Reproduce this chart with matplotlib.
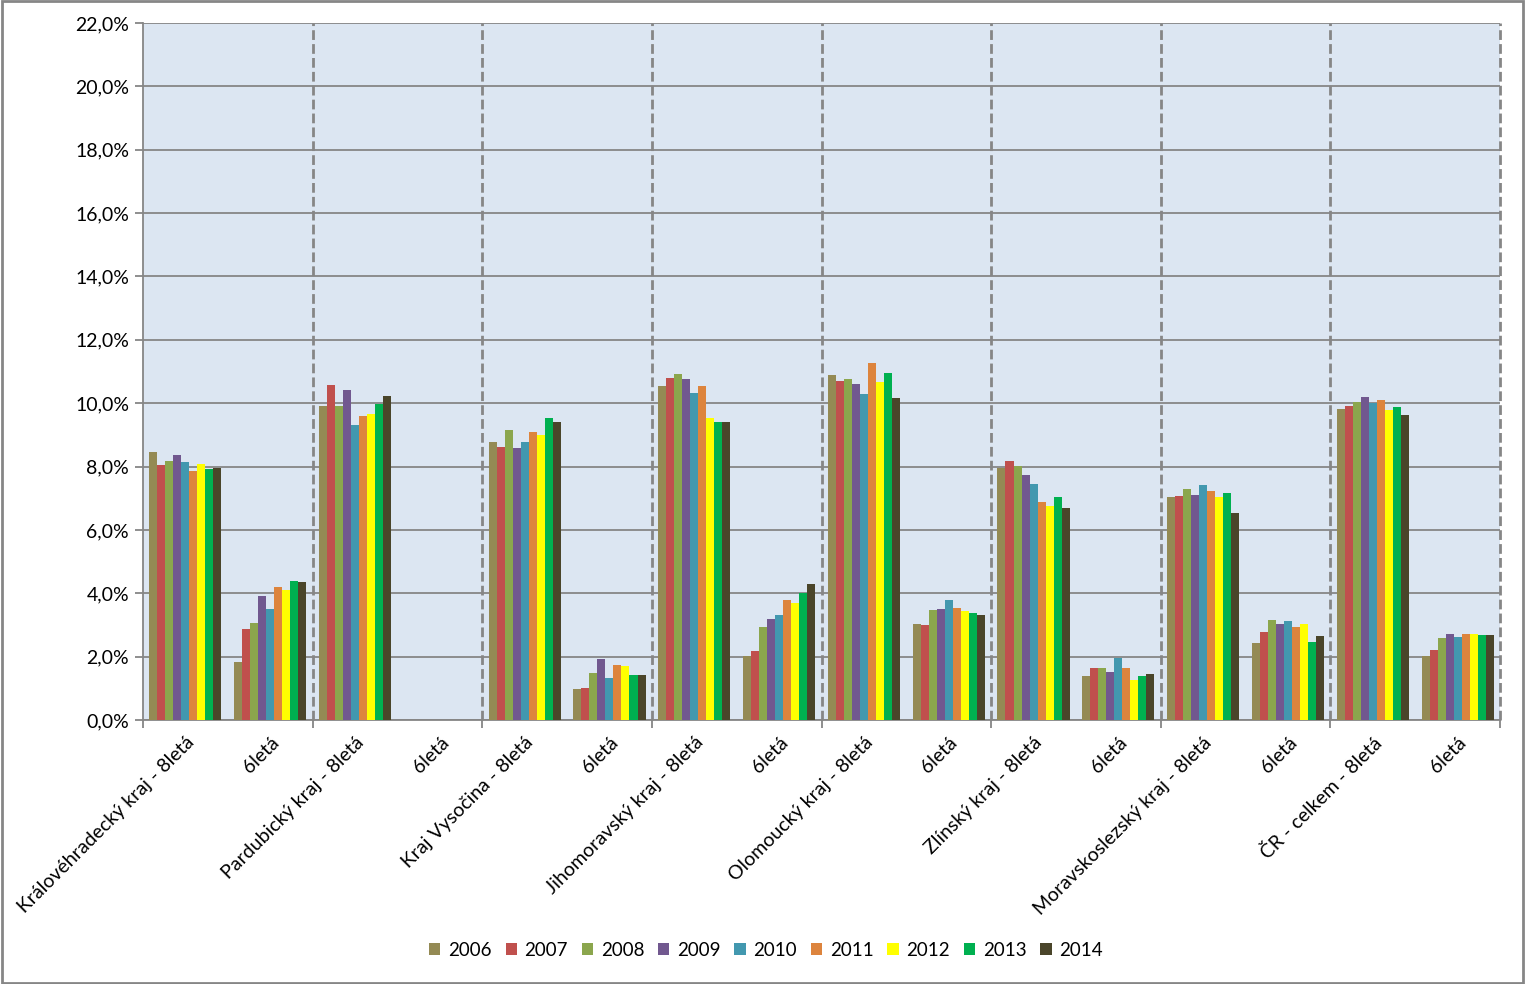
import matplotlib
matplotlib.use("Agg")
import matplotlib.pyplot as plt
import numpy as np
from matplotlib.patches import Rectangle
from matplotlib.ticker import FuncFormatter, FixedLocator

plt.rcParams['font.family'] = ['Lato', 'DejaVu Sans']

categories = ["Královéhradecký kraj - 8letá", "6letá",
              "Pardubický kraj - 8letá", "6letá",
              "Kraj Vysočina - 8letá", "6letá",
              "Jihomoravský kraj - 8letá", "6letá",
              "Olomoucký kraj - 8letá", "6letá",
              "Zlínský kraj - 8letá", "6letá",
              "Moravskoslezský kraj - 8letá", "6letá",
              "ČR - celkem - 8letá", "6letá"]

years = ["2006", "2007", "2008", "2009", "2010", "2011", "2012", "2013", "2014"]

# values in % ; rows = categories, columns = years
kh8 = [8.45, 8.04, 8.16, 8.35, 8.13, 7.85, 8.07, 7.91, 7.94]
kh6 = [1.84, 2.88, 3.07, 3.92, 3.51, 4.21, 4.11, 4.40, 4.37]
pa8 = [9.91, 10.57, 9.91, 10.41, 9.30, 9.59, 9.65, 9.97, 10.22]
pa6 = [0, 0, 0, 0, 0, 0, 0, 0, 0]
vy8 = [8.77, 8.61, 9.15, 8.58, 8.77, 9.08, 8.98, 9.53, 9.40]
vy6 = [0.98, 1.01, 1.49, 1.93, 1.33, 1.73, 1.71, 1.42, 1.42]
jm8 = [10.54, 10.79, 10.92, 10.76, 10.32, 10.54, 9.53, 9.40, 9.40]
jm6 = [2.03, 2.19, 2.94, 3.20, 3.32, 3.80, 3.70, 4.02, 4.30]
ol8 = [10.89, 10.70, 10.76, 10.60, 10.28, 11.27, 10.68, 10.95, 10.16]
ol6 = [3.04, 3.01, 3.48, 3.51, 3.80, 3.54, 3.45, 3.39, 3.32]
zl8 = [7.94, 8.16, 8.02, 7.72, 7.44, 6.87, 6.77, 7.03, 6.68]
zl6 = [1.39, 1.65, 1.65, 1.52, 1.96, 1.63, 1.27, 1.39, 1.46]
ms8 = [7.03, 7.06, 7.28, 7.09, 7.41, 7.22, 7.03, 7.15, 6.52]
ms6 = [2.44, 2.78, 3.16, 3.04, 3.13, 2.94, 3.04, 2.47, 2.66]
cr8 = [9.81, 9.91, 10.03, 10.19, 10.00, 10.09, 9.79, 9.87, 9.62]
cr6 = [2.03, 2.22, 2.59, 2.72, 2.63, 2.72, 2.71, 2.69, 2.69]

colors = ["#948A54", "#C0504D", "#8BA64D", "#71588F", "#4298AF",
          "#DD843D", "#FFFF00", "#00B050", "#4A452A"]

data = np.array([kh8, kh6, pa8, pa6, vy8, vy6, jm8, jm6,
                 ol8, ol6, zl8, zl6, ms8, ms6, cr8, cr6])

fig = plt.figure(figsize=(15.25, 9.84), dpi=100)
ax = fig.add_axes([143/1525, 1-720/984, (1500-143)/1525, (720-23)/984])
ax.set_facecolor("#DCE6F2")

n_cat, n_ser = data.shape
x = np.arange(n_cat)
bw = 0.85 / n_ser
for j in range(n_ser):
    ax.bar(x - 0.425 + bw * (j + 0.5), data[:, j], width=bw, color=colors[j],
           label=years[j], zorder=3, linewidth=0)

ax.set_xlim(-0.5, n_cat - 0.5)
ax.set_ylim(0, 22)
ax.set_yticks(np.arange(0, 22.1, 2))
ax.yaxis.set_major_formatter(FuncFormatter(lambda v, p: f"{v:.1f}%".replace(".", ",")))
ax.yaxis.grid(True, color="#868686", linewidth=1.3, zorder=1)
ax.set_axisbelow(True)

# vertical dashed separators
for b in np.arange(1.5, n_cat, 2):
    ax.axvline(b, color="#868686", linestyle=(0, (3.5, 1.5)), linewidth=2,
               zorder=4, clip_on=False)

ax.set_xticks(x)
ax.set_xticklabels(categories, rotation=45, ha="right", rotation_mode="anchor", fontsize=14)
ax.tick_params(axis="x", which="major", length=0, pad=10)
ax.xaxis.set_minor_locator(FixedLocator(np.arange(-0.5, n_cat, 2)))
ax.tick_params(axis="x", which="minor", length=6, color="#868686", width=1.3)
ax.tick_params(axis="y", length=6, color="#868686", width=1.3, labelsize=14, pad=4)

ax.spines["top"].set_visible(False)
ax.spines["right"].set_visible(False)
ax.spines["left"].set_color("#868686")
ax.spines["left"].set_linewidth(1.3)
ax.spines["bottom"].set_color("#868686")
ax.spines["bottom"].set_linewidth(1.3)

leg = fig.legend(loc="center", bbox_to_anchor=(766/1525, 1-950/984), ncol=9,
                 frameon=False, fontsize=13.5, handlelength=0.6, handleheight=0.6,
                 handletextpad=0.4, columnspacing=0.75)

fig.patches.append(Rectangle((0.001, 0.001), 0.998, 0.998, transform=fig.transFigure,
                             fill=False, edgecolor="#868686", linewidth=2))

fig.savefig("out.png", dpi=100)
